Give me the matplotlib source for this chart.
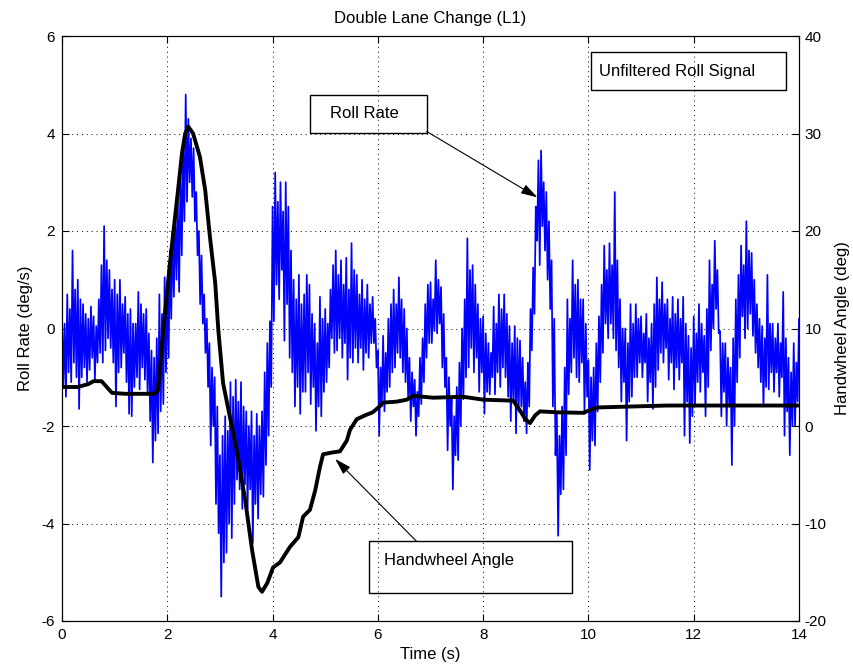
import matplotlib
matplotlib.use('Agg')
import matplotlib.pyplot as plt
import numpy as np
from matplotlib.patches import Rectangle

# roll rate (deg/s): alternating top / bottom of the noisy trace, one pair every 0.05 s
dt = 0.05
roll_hi = [0.3, 0.1, 0.7, 0.4, 1.6, 0.8, 1.0, 0.6, 0.5, 0.3, 0.2, 0.45, 0.25, 0.05, 0.6, 1.3, 2.1, 1.4, 1.2, 0.8,
           1.0, 0.7, 1.0, 0.5, 0.65, 0.3, 0.4, 0.1, 0.1, 0.75, 0.5, 0.3, 0.4, -0.1, -0.45, -0.6, -0.2, 0.7, 0.3, 1.05,
           0.9, 1.6, 2.0, 2.4, 2.6, 3.2, 3.8, 4.8, 4.3, 3.9, 3.7, 2.8, 2.0, 1.5, 0.7, 0.2, -0.3, -0.8, -1.0, -1.6,
           -2.6, -2.2, -1.8, -2.1, -1.1, -1.4, -1.05, -1.5, -1.1, -1.6, -1.7, -2.0, -1.7, -2.2, -1.75, -2.0, -1.7, -0.9, -0.3, 0.15,
           2.5, 3.2, 2.6, 3.0, 2.4, 3.0, 2.5, 1.6, 1.0, 0.6, 1.1, 0.5, 0.7, 1.1, 0.9, 0.3, 0.1, -0.3, 0.65, 0.2,
           0.4, 0.1, 0.8, 1.3, 1.6, 1.1, 1.4, 0.9, 1.45, 0.8, 1.75, 1.2, 1.1, 0.7, 1.0, 0.6, 0.9, 0.5, 0.65, 0.2,
           -0.45, -0.8, -0.15, -0.5, 0.2, 0.5, 0.8, 0.5, 1.05, 0.6, 0.4, 0.0, -0.6, -0.9, -1.05, -1.3, -0.6, -0.2, 0.5, 0.9,
           0.95, 0.6, 1.4, 1.0, 0.85, 0.3, -0.6, -1.0, -1.45, -1.8, -1.2, -0.7, 0.0, 0.6, 1.85, 1.2, 1.3, 0.9, 0.5, 0.2,
           0.25, -0.1, -0.3, -0.5, 0.45, 0.1, 0.7, 0.4, 0.7, 0.3, 0.05, -0.3, 0.05, -0.2, -0.25, -0.6, -1.1, -0.7, 0.4, 1.25,
           2.5, 3.45, 3.65, 3.0, 2.8, 2.2, 1.4, 0.2, -1.75, -2.2, -1.6, -0.8, 0.6, 0.2, 1.4, 0.9, 1.0, 0.6, 0.6, 0.1,
           -0.65, -1.0, -0.8, -0.3, 0.25, 0.9, 1.7, 1.2, 1.75, 1.3, 2.8, 1.4, 0.6, 0.0, 0.0, -0.3, 0.5, 0.1, 0.5, 0.2,
           0.25, -0.1, 0.3, -0.2, 0.1, 0.5, 1.05, 0.6, 0.95, 0.5, 0.6, 0.2, 0.65, 0.3, 0.6, 0.2, 0.65, 0.1, -0.15, -0.4,
           0.25, -0.1, 0.5, 0.1, -0.15, 0.4, 1.4, 0.9, 1.8, 1.2, -0.05, -0.3, -0.3, -0.6, -0.8, -0.2, 0.6, 1.1, 1.7, 1.3,
           2.2, 1.6, 1.55, 1.0, 0.5, 0.2, 0.05, -0.2, 1.1, 0.1, 0.1, -0.2, 0.1, -0.3, 0.75, -0.2, -0.6, -0.9, -0.3, -0.7,
           0.2]
roll_lo = [-1.2, -1.4, -0.9, -1.1, -0.7, -1.0, -1.65, -1.0, -0.8, -1.1, -0.85, -0.6, -1.05, -0.7, -0.5, -0.7, -0.45, -0.2, -0.4, -0.7,
           -1.6, -0.9, -0.8, -0.5, -1.1, -1.75, -1.8, -1.2, -1.0, -1.25, -0.8, -1.05, -1.3, -1.9, -2.75, -2.3, -2.15, -1.7, -1.55, -0.9,
           -0.6, 0.2, 0.65, 1.0, 0.75, 1.5, 2.2, 2.6, 3.0, 2.7, 2.2, 1.5, 0.5, 0.1, -0.5, -1.2, -2.4, -2.0, -3.6, -4.2,
           -5.5, -4.8, -4.6, -4.0, -4.3, -3.6, -3.1, -3.3, -3.7, -3.2, -3.7, -3.3, -4.4, -3.6, -3.9, -3.4, -3.45, -2.8, -2.2, -1.2,
           0.15, 0.9, 0.6, 1.2, -0.25, 0.5, -0.6, -0.9, -1.6, -1.2, -1.75, -1.3, -1.3, -0.9, -1.55, -1.2, -2.1, -1.6, -1.8, -1.3,
           -1.1, -0.8, -0.2, -0.5, -0.45, -0.2, -0.6, -0.3, -1.05, -0.6, -0.7, -0.4, -0.7, -0.4, -0.85, -0.5, -0.6, -0.3, -0.3, -0.8,
           -2.2, -1.6, -1.7, -1.3, -1.2, -0.9, -0.8, -0.5, -0.6, -0.9, -1.1, -1.4, -1.9, -1.6, -2.2, -1.8, -1.55, -1.1, -0.6, -0.3,
           -0.3, -0.05, -0.1, 0.1, -0.8, -1.2, -2.5, -2.0, -3.3, -2.6, -2.7, -2.0, -1.45, -1.0, -0.8, -0.4, -0.9, -0.6, -1.3, -0.9,
           -1.75, -1.3, -1.35, -1.0, -1.35, -0.9, -1.2, -0.8, -1.0, -1.4, -1.9, -1.5, -2.15, -1.7, -1.6, -1.9, -2.15, -1.6, -0.45, 0.3,
           1.8, 1.3, 2.1, 1.6, 1.0, 0.4, -1.6, -2.6, -4.25, -3.4, -3.3, -2.6, -1.35, -0.9, -0.6, -1.0, -1.1, -0.7, -1.75, -1.4,
           -2.9, -2.3, -2.4, -1.7, -1.1, -0.5, 0.1, -0.2, 0.1, -0.2, -0.45, -0.8, -1.5, -1.1, -2.3, -1.5, -1.4, -1.0, -1.0, -0.7,
           -1.0, -0.7, -1.5, -1.1, -1.65, -1.2, -0.85, -0.5, -0.7, -0.4, -1.05, -0.7, -1.25, -0.8, -1.05, -0.7, -2.2, -1.5, -2.35, -1.8,
           -1.55, -1.1, -1.3, -0.9, -1.8, -1.2, -0.45, 0.0, 0.4, -0.1, -1.8, -1.3, -2.0, -1.6, -2.8, -2.0, -1.1, -0.6, 0.25, -0.2,
           0.0, 0.3, -0.15, -0.5, -0.8, -1.1, -1.6, -1.2, -1.25, -0.9, -1.3, -0.9, -1.4, -1.0, -2.2, -1.7, -2.6, -2.0, -2.0, -1.5,
           -1.6]

# handwheel angle (deg)
wheel_t = [0.0, 0.3, 0.5, 0.6, 0.75, 0.85, 0.95, 1.2, 1.5, 1.75,
           1.82, 1.92, 2.05, 2.19, 2.28, 2.34, 2.40, 2.49, 2.62, 2.72,
           2.81, 2.91, 2.97, 3.06, 3.19, 3.32, 3.48, 3.61, 3.73, 3.80,
           3.90, 4.01, 4.14, 4.33, 4.49, 4.58, 4.71, 4.81, 4.90, 4.96,
           5.15, 5.28, 5.41, 5.47, 5.60, 5.76, 5.90, 6.01, 6.10, 6.36,
           6.55, 6.67, 7.05, 7.62, 8.00, 8.57, 8.70, 8.80, 8.89, 8.99,
           9.08, 9.42, 9.90, 10.16, 11.49, 14.0]
wheel_deg = [4.0, 4.0, 4.3, 4.6, 4.6, 4.0, 3.4, 3.3, 3.3, 3.3,
             3.6, 9.5, 16.7, 23.5, 28.0, 30.0, 30.7, 30.0, 27.6, 24.2,
             19.4, 14.7, 9.8, 4.4, 0.9, -2.5, -7.6, -12.7, -16.5, -17.0,
             -16.1, -14.5, -14.0, -12.4, -11.4, -9.3, -8.6, -6.6, -4.2, -2.9,
             -2.7, -2.6, -1.5, -0.4, 0.7, 1.1, 1.4, 1.9, 2.4, 2.5,
             2.7, 3.1, 2.9, 3.0, 2.7, 2.6, 1.6, 0.7, 0.3, 1.1,
             1.5, 1.4, 1.35, 1.9, 2.1, 2.1]


def box(ax, x, y, w, h, label, tx, ty):
    ax.add_patch(Rectangle((x, y), w, h, transform=ax.transAxes, fill=False,
                           edgecolor='k', lw=1.0, clip_on=False))
    ax.text(tx, ty, label, transform=ax.transAxes, fontsize=12,
            ha='left', va='center')


def draw(out):
    plt.rcParams['font.family'] = ['Liberation Sans', 'DejaVu Sans']
    plt.rcParams['axes.unicode_minus'] = False
    fig = plt.figure(figsize=(8.54, 6.71), dpi=100)
    ax = fig.add_axes([62/854, 1 - 621/671, 737/854, 585/671])

    t = np.arange(len(roll_hi)) * dt
    ts = np.column_stack([t, t + dt/2]).ravel()
    rs = np.column_stack([roll_hi, roll_lo]).ravel()
    ax.plot(ts, rs, color=(0, 0, 1), lw=1.25)

    ax.set_xlim(0, 14)
    ax.set_ylim(-6, 6)
    ax.set_xticks(range(0, 15, 2))
    ax.set_yticks(range(-6, 7, 2))
    ax.grid(True, color='k', linestyle=(0, (1, 4)), lw=0.7)
    ax.tick_params(direction='in', top=True, right=False, labelsize=11,
                   length=5, pad=5)
    ax.set_xlabel('Time (s)', fontsize=12, labelpad=4)
    ax.set_ylabel('Roll Rate (deg/s)', fontsize=12, labelpad=6)
    ax.set_title('Double Lane Change (L1)', fontsize=12, pad=9)

    ax2 = ax.twinx()
    ax2.plot(wheel_t, wheel_deg, color='k', lw=2.8)
    ax2.set_ylim(-20, 40)
    ax2.set_yticks(range(-20, 41, 10))
    ax2.tick_params(direction='in', labelsize=11, length=5, pad=4)
    ax2.set_ylabel('Handwheel Angle (deg)', fontsize=12, labelpad=6)

    box(ax2, 0.3365, 0.8347, 0.1583, 0.0643, 'Roll Rate', 0.3636, 0.8675)
    box(ax2, 0.4169, 0.0487, 0.2747, 0.0872, 'Handwheel Angle', 0.4373, 0.1031)
    box(ax2, 0.7174, 0.9074, 0.2653, 0.065, 'Unfiltered Roll Signal', 0.7286, 0.940)

    head = '-|>,head_length=1.0,head_width=0.3'
    ax2.annotate('', xy=(9.03, 23.45), xycoords='data',
                 xytext=(0.4948, 0.8368), textcoords='axes fraction',
                 arrowprops=dict(arrowstyle=head, color='k', lw=0.8,
                                 shrinkA=0, shrinkB=0))
    ax2.annotate('', xy=(5.19, -3.38), xycoords='data',
                 xytext=(0.4813, 0.1359), textcoords='axes fraction',
                 arrowprops=dict(arrowstyle=head, color='k', lw=0.8,
                                 shrinkA=0, shrinkB=0))

    fig.savefig(out, dpi=100)


if __name__ == '__main__':
    draw('out.png')
